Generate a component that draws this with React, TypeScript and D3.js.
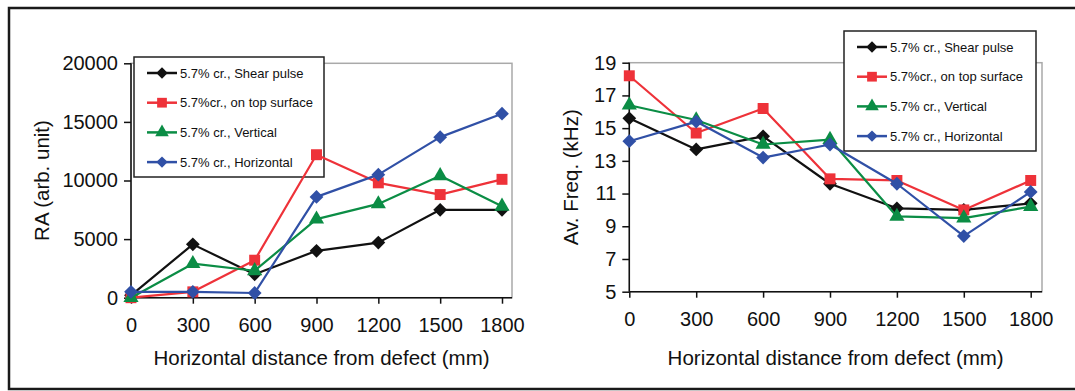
import React, { useEffect, useRef } from "react";
import {
  select,
  scaleLinear,
  line,
  axisBottom,
  axisLeft,
  symbol,
  symbolSquare,
  symbolTriangle,
} from "d3";

const distances = [0, 300, 600, 900, 1200, 1500, 1800];
const seriesNames = [
  "5.7% cr., Shear pulse",
  "5.7%cr., on top surface",
  "5.7% cr., Vertical",
  "5.7% cr., Horizontal",
];
const seriesColors = ["#111111", "#ee3239", "#0b8d45", "#3050a6"];
const seriesMarkers = ["diamond", "square", "triangle", "diamond"];

// RA (arb. unit)
const raShear = [200, 4550, 2000, 4000, 4700, 7500, 7500];
const raTopSurface = [0, 500, 3200, 12200, 9800, 8800, 10100];
const raVertical = [0, 2900, 2300, 6700, 8000, 10400, 7800];
const raHorizontal = [500, 500, 400, 8600, 10500, 13700, 15700];
const raTicks = [0, 5000, 10000, 15000, 20000];

// Av. Freq. (kHz)
const freqShear = [15.6, 13.7, 14.5, 11.6, 10.1, 10.0, 10.4];
const freqTopSurface = [18.2, 14.7, 16.2, 11.9, 11.8, 10.0, 11.8];
const freqVertical = [16.4, 15.5, 14.0, 14.3, 9.6, 9.5, 10.2];
const freqHorizontal = [14.2, 15.4, 13.2, 14.0, 11.6, 8.4, 11.1];
const freqTicks = [5, 7, 9, 11, 13, 15, 17, 19];

const FONT = "Arial, 'Liberation Sans', sans-serif";

const markerPath = (kind, big) => {
  if (kind === "square") return symbol(symbolSquare, big ? 120 : 95)();
  if (kind === "triangle") return symbol(symbolTriangle, big ? 100 : 80)();
  return symbol(symbolSquare, big ? 95 : 65)();
};

const drawMarker = (g, kind, color, cx, cy, big) => {
  g.append("path")
    .attr("d", markerPath(kind, big))
    .attr("fill", color)
    .attr(
      "transform",
      `translate(${cx},${cy})` + (kind === "diamond" ? " rotate(45)" : ""),
    );
};

const drawPanel = (svg, o) => {
  const x = scaleLinear().domain([0, 1800]).range([o.left, o.right]);
  const y = scaleLinear().domain(o.yDomain).range([o.bottom, o.top]);
  const g = svg.append("g");

  // gray plot frame
  g.append("rect")
    .attr("x", o.left)
    .attr("y", o.top)
    .attr("width", o.boxRight - o.left)
    .attr("height", o.bottom - o.top)
    .attr("fill", "none")
    .attr("stroke", "#a9a9a9")
    .attr("stroke-width", 1.5);

  const xAxis = g
    .append("g")
    .attr("transform", `translate(0,${o.bottom})`)
    .call(
      axisBottom(x)
        .tickValues(distances)
        .tickFormat((d) => String(d))
        .tickSize(6)
        .tickPadding(14),
    );
  xAxis.select(".domain").remove();

  const yAxis = g
    .append("g")
    .attr("transform", `translate(${o.left},0)`)
    .call(
      axisLeft(y)
        .tickValues(o.yTicks)
        .tickFormat((d) => String(d))
        .tickSize(7)
        .tickPadding(6),
    );
  yAxis.select(".domain").remove();

  [xAxis, yAxis].forEach((a) => {
    a.attr("font-size", 20).attr("font-family", FONT);
    a.selectAll("line").attr("stroke", "#111").attr("stroke-width", 1.5);
    a.selectAll("text").attr("fill", "#111");
  });

  // black axis lines
  g.append("line")
    .attr("x1", o.left)
    .attr("x2", o.boxRight)
    .attr("y1", o.bottom)
    .attr("y2", o.bottom)
    .attr("stroke", "#111")
    .attr("stroke-width", 1.5);
  g.append("line")
    .attr("x1", o.left)
    .attr("x2", o.left)
    .attr("y1", o.top)
    .attr("y2", o.bottom)
    .attr("stroke", "#111")
    .attr("stroke-width", 1.5);

  g.append("text")
    .attr("x", (o.left + o.boxRight) / 2)
    .attr("y", 365)
    .attr("text-anchor", "middle")
    .attr("font-family", FONT)
    .attr("font-size", 20.5)
    .attr("fill", "#111")
    .text("Horizontal distance from defect (mm)");

  g.append("text")
    .attr("transform", `translate(${o.yTitleX},${(o.top + o.bottom) / 2}) rotate(-90)`)
    .attr("text-anchor", "middle")
    .attr("font-family", FONT)
    .attr("font-size", 20.5)
    .attr("fill", "#111")
    .text(o.yTitle);

  // legend
  const lg = g.append("g");
  lg.append("rect")
    .attr("x", o.legendX)
    .attr("y", o.legendY)
    .attr("width", o.legendW)
    .attr("height", 120)
    .attr("fill", "white")
    .attr("stroke", "#222")
    .attr("stroke-width", 1.5);
  seriesNames.forEach((name, i) => {
    const ry = o.legendY + 16 + i * 29.7;
    const lx = o.legendX + 13;
    lg.append("line")
      .attr("x1", lx)
      .attr("x2", lx + 30)
      .attr("y1", ry)
      .attr("y2", ry)
      .attr("stroke", seriesColors[i])
      .attr("stroke-width", 2.5);
    drawMarker(lg, seriesMarkers[i], seriesColors[i], lx + 15, ry, false);
    lg.append("text")
      .attr("x", lx + 33)
      .attr("y", ry)
      .attr("dy", "0.36em")
      .attr("font-family", FONT)
      .attr("font-size", 13)
      .attr("fill", "#111")
      .text(name);
  });

  const chartLine = line()
    .x((d, i) => x(distances[i]))
    .y((d) => y(d));

  o.series.forEach((values, i) => {
    g.append("path")
      .datum(values)
      .attr("fill", "none")
      .attr("stroke", seriesColors[i])
      .attr("stroke-width", 2.2)
      .attr("stroke-linejoin", "round")
      .attr("d", chartLine);
    values.forEach((v, j) =>
      drawMarker(g, seriesMarkers[i], seriesColors[i], x(distances[j]), y(v), true),
    );
  });
};

const App = () => {
  const svgRef = useRef(null);
  useEffect(() => {
    const svg = select(svgRef.current);
    svg.selectAll("*").remove();

    svg
      .append("rect")
      .attr("x", 9)
      .attr("y", 8)
      .attr("width", 1090)
      .attr("height", 381)
      .attr("fill", "white")
      .attr("stroke", "#1a1a1a")
      .attr("stroke-width", 2.5);

    drawPanel(svg, {
      left: 131,
      right: 502,
      boxRight: 512,
      top: 63.3,
      bottom: 297.7,
      yDomain: [0, 20000],
      yTicks: raTicks,
      yTitle: "RA (arb. unit)",
      yTitleX: 49,
      legendX: 134,
      legendY: 57,
      legendW: 190,
      series: [raShear, raTopSurface, raVertical, raHorizontal],
    });

    drawPanel(svg, {
      left: 629.3,
      right: 1030.7,
      boxRight: 1042,
      top: 62.7,
      bottom: 291.7,
      yDomain: [5, 19],
      yTicks: freqTicks,
      yTitle: "Av. Freq. (kHz)",
      yTitleX: 578,
      legendX: 844,
      legendY: 31,
      legendW: 192,
      series: [freqShear, freqTopSurface, freqVertical, freqHorizontal],
    });
  }, []);

  return (
    <svg
      ref={svgRef}
      width={1075}
      height={391}
      style={{ position: "absolute", left: 0, top: 0, background: "white" }}
    />
  );
};

export default App;
